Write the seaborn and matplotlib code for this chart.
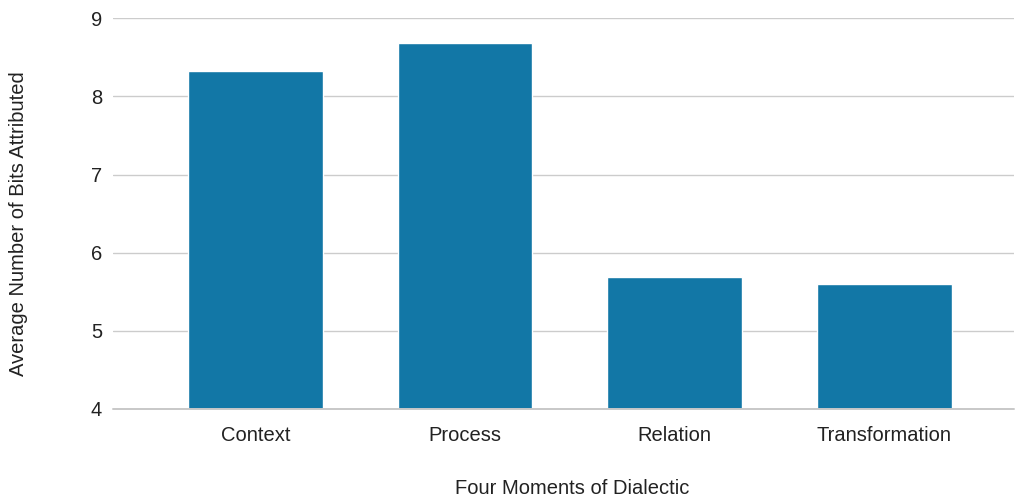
import matplotlib
matplotlib.use("Agg")
import matplotlib.pyplot as plt
import seaborn as sns
import pandas as pd

moments = ["Context", "Process", "Relation", "Transformation"]
avg_bits = [8.32, 8.69, 5.69, 5.60]
y_ticks = [4, 5, 6, 7, 8, 9]

df = pd.DataFrame({"moment": moments, "bits": avg_bits})

sns.set_theme(style="white")
plt.rcParams["font.family"] = ["Liberation Sans", "DejaVu Sans"]

W, H = 1015, 500
x0, x1 = 113, 1014
y_top, y_bot = 18.3, 409

fig = plt.figure(figsize=(W / 100, H / 100), dpi=100)
ax = fig.add_axes([x0 / W, 1 - y_bot / H, (x1 - x0) / W, (y_bot - y_top) / H])

ax.yaxis.grid(True, color="#cccccc", linewidth=1.0)
ax.set_axisbelow(True)

sns.barplot(data=df, x="moment", y="bits", color="#1277a6", saturation=1,
            width=0.644, ax=ax, zorder=3)

ax.set_ylim(4, 9)
ax.set_yticks(y_ticks)
ax.set_xlim(-0.68, 3.62)

# baseline drawn over the bar bottoms, unclipped
ax.axhline(4, color="#c8c8c8", linewidth=1.4, zorder=4, clip_on=False)

for s in ax.spines.values():
    s.set_visible(False)

txt = "#222222"
ax.tick_params(axis="y", length=0, pad=8, labelsize=14.5, colors=txt)
ax.tick_params(axis="x", length=0, pad=12, labelsize=14.5, colors=txt)

ax.set_xlabel("Four Moments of Dialectic", fontsize=14.5, color=txt)
ax.set_ylabel("Average Number of Bits Attributed", fontsize=14.5, color=txt)
ax.xaxis.label.set_va("center")
ax.yaxis.label.set_va("center")
ax.xaxis.set_label_coords((572 - x0) / (x1 - x0), -(488 - y_bot) / (y_bot - y_top))
ax.yaxis.set_label_coords((18 - x0) / (x1 - x0), (y_bot - 224) / (y_bot - y_top))

fig.savefig("out.png", dpi=100)
